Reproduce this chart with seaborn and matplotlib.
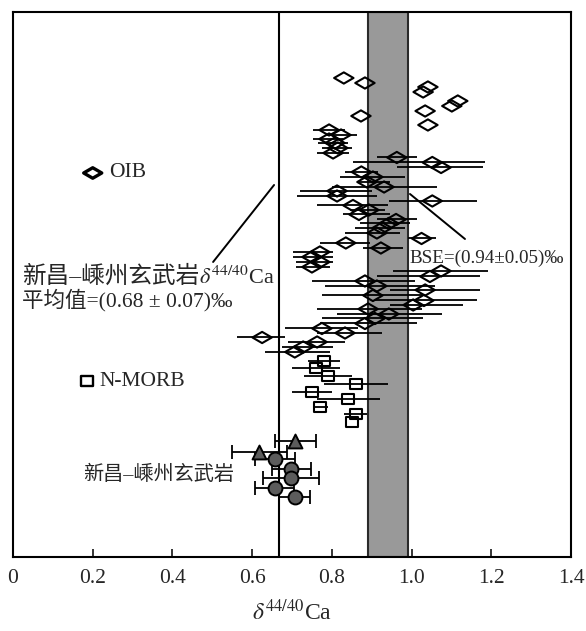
import numpy as np
import pandas as pd
import seaborn as sns
import matplotlib.pyplot as plt
from matplotlib.path import Path
from matplotlib.markers import MarkerStyle


# OIB (open diamonds): delta44/40Ca, lower / upper end of error bar, vertical position
oib_d44 = [0.830, 0.883, 1.041, 1.029, 1.116, 1.101, 1.034, 0.873, 1.041,
           0.793, 0.823, 0.793, 0.808, 0.815, 0.803,
           0.963, 1.052, 1.074, 0.874, 0.903, 0.888, 0.931, 0.813, 0.813,
           1.052, 0.853, 0.893, 0.868, 0.961, 0.943, 0.926, 0.913, 1.025,
           0.835, 0.923, 0.770, 0.750, 0.770, 0.750, 1.074, 1.046, 0.883,
           0.913, 1.034, 0.903, 1.031, 1.004, 0.891, 0.943, 0.908, 0.883,
           0.775, 0.833, 0.625, 0.763, 0.728, 0.707]
oib_lo = [np.nan] * 9 + [
    0.753, 0.788, 0.753, 0.765, 0.775, 0.763,
    0.913, 0.853, 0.963, 0.833, 0.820, 0.863, 0.800, 0.720, 0.712,
    0.943, 0.763, 0.845, 0.828, 0.913, 0.871, 0.858, 0.833, 0.991,
    0.770, 0.878, 0.702, 0.702, 0.710, 0.710, 0.953, 0.913, 0.750,
    0.783, 0.946, 0.775, 0.908, 0.946, 0.763, 0.813, 0.775, 0.770,
    0.682, 0.763, 0.562, 0.690, 0.675, 0.632]
oib_hi = [np.nan] * 9 + [
    0.833, 0.863, 0.828, 0.840, 0.850, 0.843,
    1.014, 1.184, 1.179, 0.916, 0.983, 0.946, 1.064, 0.901, 0.913,
    1.164, 0.941, 0.933, 0.946, 1.014, 0.996, 0.983, 0.971, 1.061,
    0.896, 0.978, 0.803, 0.803, 0.803, 0.795, 1.192, 1.172, 1.009,
    1.059, 1.172, 1.029, 1.164, 1.129, 1.026, 1.076, 1.029, 1.014,
    0.866, 0.926, 0.682, 0.833, 0.803, 0.795]
oib_pos = [78, 83, 87, 92, 101, 106, 111, 116, 125,
           130, 135, 139, 143, 148, 153,
           157.5, 162.5, 167.5, 172, 177, 182, 187, 191, 196,
           201, 205.5, 210, 214.5, 219.5, 223.5, 228, 233, 238.5,
           243, 248, 252, 257, 262, 267, 271, 276.5, 281,
           286, 290, 295.5, 300.5, 305, 309, 314, 318.5, 323.5,
           328.5, 333, 337.5, 342, 347, 352]

# N-MORB (open squares)
morb_d44 = [0.781, 0.760, 0.791, 0.861, 0.751, 0.840, 0.770, 0.861, 0.850]
morb_lo = [0.741, 0.701, 0.730, 0.781, 0.701, 0.762, 0.752, 0.830, np.nan]
morb_hi = [0.820, 0.820, 0.850, 0.940, 0.801, 0.921, 0.791, 0.889, np.nan]
morb_pos = [361, 368, 376, 384, 392, 399, 407, 414, 422]

# Xinchang-Shengzhou basalts: triangles and circles
tri_d44 = [0.708, 0.618]
tri_lo = [0.657, 0.549]
tri_hi = [0.759, 0.687]
tri_pos = [441, 452]
cir_d44 = [0.658, 0.697, 0.697, 0.658, 0.708]
cir_lo = [0.607, 0.649, 0.628, 0.607, 0.668]
cir_hi = [0.708, 0.748, 0.768, 0.705, 0.746]
cir_pos = [459, 469, 478, 488, 497]

XS_MEAN = 0.668
BSE_LO, BSE_HI = 0.89, 0.99
XTICKS = [0, 0.2, 0.4, 0.6, 0.8, 1.0, 1.2, 1.4]
XTICK_LABELS = ["0", "0.2", "0.4", "0.6", "0.8", "1.0", "1.2", "1.4"]

FAMILY = ["Liberation Serif", "Noto Sans CJK SC", "DejaVu Sans"]

DIAMOND = MarkerStyle(Path([(-1, 0), (0, 0.58), (1, 0), (0, -0.58), (-1, 0)], closed=True))
RECT = MarkerStyle(Path([(-1, -0.78), (1, -0.78), (1, 0.78), (-1, 0.78), (-1, -0.78)], closed=True))


def make_df(d44, lo, hi, pos):
    return pd.DataFrame({"d44": d44, "lo": lo, "hi": hi, "pos": pos})


def draw_group(ax, df, marker, size, face, capsize, lw=1.4):
    bars = df.dropna()
    ax.errorbar(bars["d44"], bars["pos"],
                xerr=[bars["d44"] - bars["lo"], bars["hi"] - bars["d44"]],
                fmt="none", ecolor="black", elinewidth=1.3, capsize=capsize,
                capthick=1.3, zorder=3)
    sns.scatterplot(data=df, x="d44", y="pos", marker=marker, s=size,
                    color="black", facecolor=face, edgecolor="black",
                    linewidth=lw, ax=ax, zorder=4, legend=False)


def run():
    sns.set_theme(style="white")
    plt.rcParams["font.family"] = FAMILY
    plt.rcParams["mathtext.fontset"] = "stix"

    fig = plt.figure(figsize=(5.86, 6.31), dpi=100)
    ax = fig.add_axes([0.0222, 0.1173, 0.9522, 0.8637])

    ax.axvspan(BSE_LO, BSE_HI, facecolor="#999999", edgecolor="#2a2a2a", linewidth=1.5, zorder=1)
    ax.axvline(XS_MEAN, color="black", linewidth=1.5, zorder=2)

    draw_group(ax, make_df(oib_d44, oib_lo, oib_hi, oib_pos), DIAMOND, 195, "none", 0, lw=1.5)
    draw_group(ax, make_df(morb_d44, morb_lo, morb_hi, morb_pos), RECT, 75, "none", 0, lw=1.5)
    draw_group(ax, make_df(tri_d44, tri_lo, tri_hi, tri_pos), "^", 100, "#5c5c5c", 5)
    draw_group(ax, make_df(cir_d44, cir_lo, cir_hi, cir_pos), "o", 100, "#5c5c5c", 5)

    # legend-like labels
    ax.scatter([0.2], [173], marker=DIAMOND, s=170, facecolor="none", edgecolor="black", linewidth=2.4)
    ax.text(0.242, 173, "OIB", fontsize=15.5, va="center", ha="left")
    ax.scatter([0.186], [381], marker=RECT, s=75, facecolor="none", edgecolor="black", linewidth=1.7)
    ax.text(0.218, 382, "N-MORB", fontsize=15.5, va="center", ha="left")

    t1 = ax.text(0.022, 283, "新昌–嵊州玄武岩", fontsize=17, va="baseline", ha="left")
    ax.annotate(r"$\delta^{44/40}$Ca", xy=(1, 0.16), xycoords=t1, fontsize=16,
                va="baseline", ha="left")
    ax.text(0.022, 306, "平均值=(0.68 ± 0.07)‰", fontsize=15.5, va="baseline", ha="left")
    ax.plot([0.502, 0.655], [262, 185], color="black", linewidth=1.4)

    ax.text(0.996, 258, "BSE=(0.94±0.05)‰", fontsize=13.8, va="center", ha="left")
    ax.plot([0.996, 1.134], [194, 239], color="black", linewidth=1.4)

    ax.text(0.176, 475, "新昌–嵊州玄武岩", fontsize=14.5, va="center", ha="left")

    ax.set_xlim(0, 1.4)
    ax.set_ylim(557, 12)
    ax.set_xticks(XTICKS)
    ax.set_xticklabels(XTICK_LABELS)
    ax.set_yticks([])
    ax.tick_params(axis="x", direction="in", length=6, width=1.3, pad=9,
                   labelsize=15.5, bottom=True, top=False)
    ax.set_xlabel(r"$\delta^{44/40}$Ca", fontsize=17, labelpad=8)
    ax.set_ylabel("")
    for spine in ax.spines.values():
        spine.set_color("black")
        spine.set_linewidth(1.5)

    fig.savefig("out.png", dpi=100)
    plt.close(fig)


if __name__ == "__main__":
    run()
